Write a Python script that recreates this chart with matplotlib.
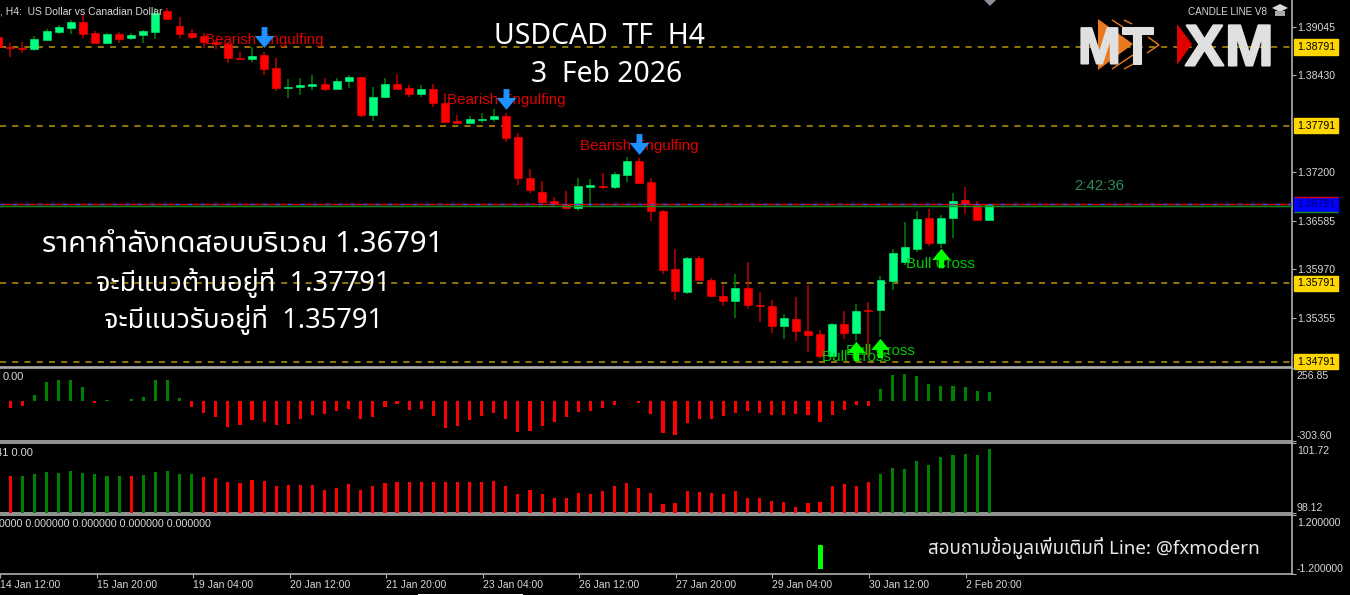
import numpy as np
import matplotlib
matplotlib.use('Agg')
import matplotlib.pyplot as plt
import matplotlib.patheffects as pe
from matplotlib.patches import Polygon, Rectangle
from matplotlib.path import Path
from matplotlib.ticker import NullLocator
from matplotlib.transforms import ScaledTranslation

W, H = 1350, 595

# H4 candles, price in points (1e-5), first candle is cut by the left edge
opens = [138914,138787,138783,138761,138884,138986,139037,139109,138965,138842,138956,138901,138939,138986,139244,139058,
         138965,138927,138859,138829,138656,138635,138685,138520,138266,138279,138296,138321,138258,138355,138406,137923,
         138152,138321,138266,138199,138254,138080,137848,137822,137864,137873,137915,137648,137128,136950,136832,136797,
         136750,137017,137030,137013,137169,137343,137073,136708,135968,135684,136111,135832,135633,135562,135727,135511,
         135506,135252,135333,135188,135143,134871,135277,135159,135455,135447,135820,136057,136230,136616,136298,136616,
         136845,136785,136595]
closes = [138787,138774,138766,138888,138994,139041,139109,138956,138842,138956,138897,138943,138990,139227,139147,138956,
          138922,138855,138829,138651,138635,138677,138512,138266,138279,138309,138321,138258,138359,138406,137928,138160,
          138321,138258,138199,138254,138076,137843,137830,137873,137881,137919,137639,137124,136979,136827,136797,136750,
          137026,137035,137017,137178,137343,137068,136705,135963,135689,136111,135832,135629,135562,135727,135519,135498,
          135244,135346,135185,135134,134871,135277,135159,135442,135438,135828,136171,136247,136611,136298,136623,136840,
          136797,136595,136785]
highs = [138965,138838,138859,138931,139024,139071,139134,139198,138994,138973,138977,138973,139007,139282,139282,139168,
         139020,138973,138880,138859,138732,138787,138732,138647,138381,138397,138431,138397,138397,138431,138406,138279,
         138397,138448,138304,138304,138321,138203,137928,137915,137957,138000,137949,137695,137246,137093,136890,136959,
         137124,137111,137187,137200,137390,137378,137124,136721,136222,136120,136137,135854,135769,135912,136065,135680,
         135578,135400,135616,135769,135197,135282,135442,135527,135553,135883,136222,136569,136712,136738,136658,136933,
         137017,136836,136789]
lows = [138753,138660,138711,138740,138880,138956,138956,138901,138838,138833,138842,138884,138838,138897,139142,138901,
        138888,138774,138761,138592,138630,138605,138436,138237,138143,138177,138245,138237,138254,138275,137906,137856,
        138148,138254,138156,138152,138033,137839,137830,137822,137830,137835,137589,137039,136933,136785,136755,136750,
        136712,136755,136984,136992,137081,137060,136578,135908,135578,135654,135828,135612,135502,135350,135460,135299,
        135159,135087,135057,134914,134842,134858,135087,135054,134858,135104,135701,136023,136192,136268,136239,136366,
        136670,136595,136595]

# first sub window histogram
hist1 = [-51,-33,46,146,166,166,108,-13,15,6,20,31,166,166,26,-41,-92,-120,-195,-184,-143,-159,-184,-172,-131,-105,-97,
         -72,-59,-131,-120,-46,-18,-69,-59,-108,-200,-189,-143,-113,-92,-136,-236,-225,-189,-154,-120,-84,-72,-51,-31,5,
         -13,-97,-241,-259,-166,-131,-131,-113,-92,-77,-92,-105,-105,-97,-105,-154,-105,-69,-28,-33,92,200,207,192,136,
         115,115,108,77,69]

# second sub window histogram
hist2 = [100.02,100.04,100.13,100.21,100.18,100.28,100.18,100.13,100.02,100.04,100.02,100.07,100.25,100.28,100.13,100.13,
         99.97,99.90,99.73,99.66,99.82,99.77,99.51,99.56,99.56,99.56,99.30,99.42,99.61,99.30,99.51,99.66,99.73,99.70,99.70,
         99.70,99.70,99.70,99.70,99.70,99.77,99.51,99.08,99.30,99.08,98.91,98.91,99.15,99.11,99.23,99.51,99.66,99.42,99.15,
         98.60,98.62,99.27,99.20,99.15,99.11,99.27,98.91,98.91,98.74,98.69,98.45,98.62,98.69,99.51,99.61,99.51,99.73,100.13,
         100.43,100.40,100.79,100.59,101.02,101.10,101.17,101.10,101.41]
hist2_red = [0, 10] + list(range(16, 72))

signal_index = 67
signal_value = -1.0

level_prices = [1.38791, 1.37791, 1.35791, 1.34791]
current_price = 1.36791
price_ticks = [1.39045, 1.38430, 1.37200, 1.36585, 1.35970, 1.35355]
date_ticks = [-1, 7, 15, 23, 31, 39, 47, 55, 63, 71, 79]
date_labels = ['14 Jan 12:00', '15 Jan 20:00', '19 Jan 04:00', '20 Jan 12:00', '21 Jan 20:00', '23 Jan 04:00',
               '26 Jan 12:00', '27 Jan 20:00', '29 Jan 04:00', '30 Jan 12:00', '2 Feb 20:00']

# bar index, arrow price, text price
bear_signals = [(21, 1.38914, 1.38885), (41, 1.38125, 1.38112), (52, 1.37559, 1.37535)]
bull_signals = [(70, 1.34930, 1.34860), (72, 1.34969, 1.34925), (77, 1.36105, 1.36040)]

C_RED = '#ff0000'
C_WICK_RED = '#c00000'
C_BODY_GREEN = '#00ff7f'
C_WICK_GREEN = '#008000'
C_HIST_GREEN = '#008000'
C_AXIS = '#b0b0b0'
C_TEXT = '#d8d8d8'
FAM = ['Noto Sans Thai', 'Noto Sans', 'DejaVu Sans', 'Liberation Sans']
LAB = 'Liberation Sans'

fig = plt.figure(figsize=(W / 100, H / 100), dpi=100, facecolor='black')


def panel(top, bottom):
    ax = fig.add_axes([0, 1 - bottom / H, 1292 / W, (bottom - top) / H])
    ax.set_facecolor('black')
    ax.spines['left'].set_visible(False)
    for s in ['top', 'bottom', 'right']:
        ax.spines[s].set_color(C_AXIS)
        ax.spines[s].set_linewidth(1.2)
    ax.set_xlim(-10.3 / 12.086, (1292 - 10.3) / 12.086)
    ax.xaxis.set_major_locator(NullLocator())
    ax.yaxis.tick_right()
    ax.tick_params(axis='y', colors=C_AXIS, labelcolor=C_TEXT, length=3, width=0.8, labelsize=7.6, pad=0.5)
    return ax


def px_text(x, y, s, **kw):
    return fig.text(x / W, 1 - y / H, s, **kw)


def px_poly(points, **kw):
    pts = [(x / W, 1 - y / H) for x, y in points]
    fig.add_artist(Polygon(pts, closed=kw.pop('closed', True), transform=fig.transFigure, **kw))


def edge_labels(ax, vals, labs):
    ax.set_yticks(vals)
    ax.set_yticklabels(labs, family=LAB)
    top, bot = ax.get_yticklabels()
    top.set_va('top')
    bot.set_va('bottom')
    top.set_transform(top.get_transform() + ScaledTranslation(0, -2.5 / 72, fig.dpi_scale_trans))


main = panel(0, 367)
sub1 = panel(368, 441)
sub2 = panel(443, 513)
sub3 = panel(515, 574)
main.spines['top'].set_visible(False)

# candles
idx = np.arange(-1, 82)
o = np.array(opens) / 1e5
c = np.array(closes) / 1e5
h = np.array(highs) / 1e5
l = np.array(lows) / 1e5
up = c >= o
main.vlines(idx[up], l[up], h[up], color=C_WICK_GREEN, lw=1.1, zorder=3)
main.vlines(idx[~up], l[~up], h[~up], color=C_WICK_RED, lw=1.1, zorder=3)
body_low = np.minimum(o, c)
body_h = np.abs(c - o)
main.bar(idx[up], body_h[up], bottom=body_low[up], width=0.66, color=C_BODY_GREEN, edgecolor=C_BODY_GREEN, lw=0.4, zorder=4)
main.bar(idx[~up], body_h[~up], bottom=body_low[~up], width=0.66, color=C_RED, edgecolor=C_RED, lw=0.4, zorder=4)
main.set_ylim(1.34727, 1.39388)

for p in level_prices:
    main.axhline(p, color='#b8960c', lw=1.1, dashes=(4, 4), zorder=2)
main.axhline(current_price + 0.00006, color='#e00000', lw=1.0, zorder=5)
main.axhline(current_price + 0.00006, color='#3050ff', lw=1.0, dashes=(3, 6), zorder=5)
main.axhline(current_price - 0.00014, color='#109010', lw=1.0, zorder=5)

main.set_yticks(price_ticks)
main.set_yticklabels(['%.5f' % p for p in price_ticks], family=LAB)

trans = main.get_yaxis_transform()
for p in level_prices:
    main.text(1297 / 1292, p, '%.5f' % p, transform=trans, ha='left', va='center', fontsize=7.6, color='black', family=LAB,
              clip_on=False, zorder=10, bbox=dict(facecolor='#ffd700', edgecolor='#ffd700', pad=1.8))
main.text(1297 / 1292, current_price, '%.5f' % current_price, transform=trans, ha='left', va='center', fontsize=7.6,
          color='#000060', family=LAB, clip_on=False, zorder=10,
          bbox=dict(facecolor='#0000ff', edgecolor='#0000ff', pad=1.8))
px_poly([(1294, 197.5), (1338, 197.5)], closed=False, fill=False, edgecolor='#e00000', lw=1.0, zorder=12)
px_poly([(1294, 211.5), (1338, 211.5)], closed=False, fill=False, edgecolor='#109010', lw=1.0, zorder=12)

# signal arrows
down_arrow = Path([(-0.28, 1), (0.28, 1), (0.28, 0.15), (0.95, 0.15), (0, -1), (-0.95, 0.15), (-0.28, 0.15), (-0.28, 1)], closed=True)
up_arrow = Path([(-0.28, -1), (0.28, -1), (0.28, -0.15), (0.95, -0.15), (0, 1), (-0.95, -0.15), (-0.28, -0.15), (-0.28, -1)], closed=True)
for i, p_arrow, p_text in bear_signals:
    main.text(i, p_text, 'Bearish Engulfing', color='#e00000', fontsize=10.9, family=LAB,
              ha='center', va='center', zorder=6)
    main.plot([i], [p_arrow], marker=down_arrow, ms=15, color='#1e90ff', mew=0, zorder=7)
for i, p_arrow, p_text in bull_signals:
    main.text(i, p_text, 'Bull Cross', color='#00c800', fontsize=10.9, family=LAB,
              ha='center', va='center', zorder=6)
    main.plot([i], [p_arrow], marker=up_arrow, ms=14, color='#00ff00', mew=0, zorder=7)

# sub window 1
x_hist = np.arange(0, 82)
v1 = np.array(hist1)
sub1.bar(x_hist, v1, width=0.26, color=[C_HIST_GREEN if v > 0 else C_RED for v in v1], zorder=3)
sub1.set_ylim(-303.60, 256.85)
edge_labels(sub1, [256.85, -303.60], ['256.85', '-303.60'])

# sub window 2
v2 = np.array(hist2)
cols2 = [C_RED if i in hist2_red else C_HIST_GREEN for i in x_hist]
sub2.bar(x_hist, v2 - 98.12, bottom=98.12, width=0.26, color=cols2, zorder=3)
sub2.set_ylim(98.12, 101.72)
edge_labels(sub2, [101.72, 98.12], ['101.72', '98.12'])

# sub window 3
sub3.bar([signal_index], [signal_value], width=0.4, color='#00ff00', zorder=3)
sub3.set_ylim(-1.2, 1.2)
edge_labels(sub3, [1.2, -1.2], ['1.200000', '-1.200000'])

# date axis
sub3.set_xticks(date_ticks)
sub3.set_xticklabels(date_labels, ha='left', family=LAB)
sub3.tick_params(axis='x', colors=C_AXIS, labelcolor=C_TEXT, length=3, width=0.8, labelsize=7.5, pad=1)

# window captions
px_text(3, 377, '0.00', color=C_TEXT, fontsize=8, va='center', family=LAB)
px_text(-4, 453, '41 0.00', color=C_TEXT, fontsize=8, va='center', family=LAB)
px_text(211, 524, '00000 0.000000 0.000000 0.000000 0.000000', color=C_TEXT, fontsize=7.7, va='center', ha='right', family=LAB)
px_text(0, 12, ', H4:  US Dollar vs Canadian Dollar', color=C_TEXT, fontsize=7.5, va='center', family=LAB, zorder=8)

# overlay text
px_text(600, 36, 'USDCAD  TF  H4', color='white', fontsize=20.4, ha='center', va='center', family=FAM)
px_text(607, 74, '3  Feb 2026', color='white', fontsize=20.4, ha='center', va='center', family=FAM)
px_text(243, 245, 'ราคากำลังทดสอบบริเวณ 1.36791', color='white', fontsize=21, ha='center', va='center', family=FAM)
px_text(243, 283, 'จะมีแนวต้านอยู่ที่  1.37791', color='white', fontsize=19.6, ha='center', va='center', family=FAM)
px_text(243, 320, 'จะมีแนวรับอยู่ที่  1.35791', color='white', fontsize=19.6, ha='center', va='center', family=FAM)
px_text(1260, 548, 'สอบถามข้อมูลเพิ่มเติมที่ Line: @fxmodern', color='#e8e8e8', fontsize=13.5, ha='right', va='center', family=FAM)
px_text(1099, 186, '2:42:36', color='#2e8b57', fontsize=10.8, ha='center', va='center', family=LAB)
px_text(1227, 12, 'CANDLE LINE V8', color=C_TEXT, fontsize=7.1, ha='center', va='center', family=LAB)

# logo
px_poly([(1098, 19), (1133, 44), (1098, 70)], facecolor='#e8791e', edgecolor='none')
for chev in [[(1112, 20), (1123, 27)], [(1124, 20), (1132, 24)], [(1148, 37), (1159, 45), (1147, 53)],
             [(1112, 69), (1133, 55)], [(1124, 69), (1135, 63)]]:
    px_poly(chev, closed=False, fill=False, edgecolor='#e8791e', lw=1.0)
px_poly([(1177, 24), (1192, 44), (1177, 65)], facecolor='#e00000', edgecolor='none')
for s, x, y, fs in [('M', 1078, 63.5, 37), ('T', 1122, 63.5, 37), ('X', 1185, 65.5, 42), ('M', 1225, 65.5, 42)]:
    t = px_text(x, y, s, color='#e0e0e0', fontsize=fs, fontweight='bold', family=LAB, ha='left', va='baseline')
    t.set_path_effects([pe.withStroke(linewidth=1.5, foreground='#e0e0e0')])
px_poly([(1272, 8), (1280, 4), (1288, 8), (1280, 12)], facecolor='#d8d8d8', edgecolor='none')
px_poly([(1275, 11), (1285, 11), (1285, 16), (1275, 16)], facecolor='#a8a8a8', edgecolor='none')
px_poly([(984, 0), (996, 0), (990, 6)], facecolor='#8a8f98', edgecolor='none')
fig.add_artist(Rectangle((418 / W, 0), 105 / W, 1.5 / H, transform=fig.transFigure, facecolor='white', edgecolor='none'))

fig.savefig('out.png', dpi=100, facecolor='black')
